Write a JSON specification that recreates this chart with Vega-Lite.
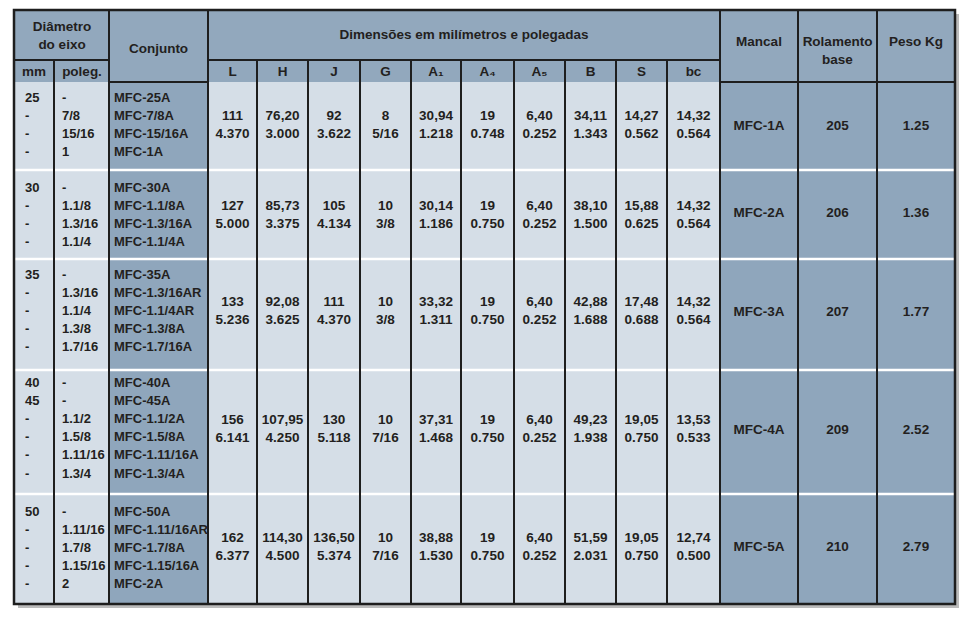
{
  "$schema": "https://vega.github.io/schema/vega-lite/v6.json",
  "width": 970,
  "height": 621,
  "autosize": {"type": "fit", "contains": "padding"},
  "padding": 0,
  "background": "#ffffff",
  "config": {"view": {"stroke": null}},
  "datasets": {
    "frame": [{"x0": 14, "x1": 955, "y0": 10, "y1": 604}],
    "cols": [
      {"col": "mm", "x0": 14, "x1": 54, "tx": 25, "grp": "left", "cls": "light"},
      {"col": "poleg", "x0": 54, "x1": 109, "tx": 62, "grp": "left", "cls": "light"},
      {"col": "conj", "x0": 109, "x1": 208, "tx": 114, "grp": "left", "cls": "dark"},
      {"col": "L", "x0": 208, "x1": 257, "tx": 232.5, "grp": "dims", "cls": "light"},
      {"col": "H", "x0": 257, "x1": 308, "tx": 282.5, "grp": "dims", "cls": "light"},
      {"col": "J", "x0": 308, "x1": 360, "tx": 334, "grp": "dims", "cls": "light"},
      {"col": "G", "x0": 360, "x1": 411, "tx": 385.5, "grp": "dims", "cls": "light"},
      {"col": "A1", "x0": 411, "x1": 461, "tx": 436, "grp": "dims", "cls": "light"},
      {"col": "A4", "x0": 461, "x1": 514, "tx": 487.5, "grp": "dims", "cls": "light"},
      {"col": "A5", "x0": 514, "x1": 565, "tx": 539.5, "grp": "dims", "cls": "light"},
      {"col": "B", "x0": 565, "x1": 616, "tx": 590.5, "grp": "dims", "cls": "light"},
      {"col": "S", "x0": 616, "x1": 667, "tx": 641.5, "grp": "dims", "cls": "light"},
      {"col": "bc", "x0": 667, "x1": 720, "tx": 693.5, "grp": "dims", "cls": "light"},
      {"col": "mancal", "x0": 720, "x1": 798, "tx": 759, "grp": "right", "cls": "dark"},
      {"col": "rol", "x0": 798, "x1": 877, "tx": 837.5, "grp": "right", "cls": "dark"},
      {"col": "peso", "x0": 877, "x1": 955, "tx": 916, "grp": "right", "cls": "dark"}
    ],
    "rows": [
      {"row": 1, "y0": 82, "y1": 170, "yl": 98, "yd": 116, "yr": 126},
      {"row": 2, "y0": 170, "y1": 259, "yl": 188, "yd": 205.5, "yr": 213},
      {"row": 3, "y0": 259, "y1": 370, "yl": 275, "yd": 302, "yr": 312},
      {"row": 4, "y0": 370, "y1": 494, "yl": 383, "yd": 420, "yr": 430},
      {"row": 5, "y0": 494, "y1": 604, "yl": 512, "yd": 538, "yr": 547}
    ],
    "headers": [
      {"t": "Diâmetro\ndo eixo", "x0": 14, "x1": 109, "y0": 10, "y1": 60, "tx": 62, "ty": 27},
      {"t": "mm", "x0": 14, "x1": 54, "y0": 60, "y1": 82, "tx": 34, "ty": 71.5},
      {"t": "poleg.", "x0": 54, "x1": 109, "y0": 60, "y1": 82, "tx": 82, "ty": 71.5},
      {"t": "Conjunto", "x0": 109, "x1": 208, "y0": 10, "y1": 82, "tx": 158.5, "ty": 48.5},
      {"t": "Dimensões em milímetros e polegadas", "x0": 208, "x1": 720, "y0": 10, "y1": 60, "tx": 464, "ty": 34.5},
      {"t": "L", "x0": 208, "x1": 257, "y0": 60, "y1": 82, "tx": 232.5, "ty": 72},
      {"t": "H", "x0": 257, "x1": 308, "y0": 60, "y1": 82, "tx": 282.5, "ty": 72},
      {"t": "J", "x0": 308, "x1": 360, "y0": 60, "y1": 82, "tx": 334, "ty": 72},
      {"t": "G", "x0": 360, "x1": 411, "y0": 60, "y1": 82, "tx": 385.5, "ty": 72},
      {"t": "A₁", "x0": 411, "x1": 461, "y0": 60, "y1": 82, "tx": 436, "ty": 72},
      {"t": "A₄", "x0": 461, "x1": 514, "y0": 60, "y1": 82, "tx": 487.5, "ty": 72},
      {"t": "A₅", "x0": 514, "x1": 565, "y0": 60, "y1": 82, "tx": 539.5, "ty": 72},
      {"t": "B", "x0": 565, "x1": 616, "y0": 60, "y1": 82, "tx": 590.5, "ty": 72},
      {"t": "S", "x0": 616, "x1": 667, "y0": 60, "y1": 82, "tx": 641.5, "ty": 72},
      {"t": "bc", "x0": 667, "x1": 720, "y0": 60, "y1": 82, "tx": 693.5, "ty": 72},
      {"t": "Mancal", "x0": 720, "x1": 798, "y0": 10, "y1": 82, "tx": 759, "ty": 42},
      {"t": "Rolamento\nbase", "x0": 798, "x1": 877, "y0": 10, "y1": 82, "tx": 837.5, "ty": 42},
      {"t": "Peso Kg", "x0": 877, "x1": 955, "y0": 10, "y1": 82, "tx": 916, "ty": 42}
    ],
    "lines": [
      {"kind": "white", "x": 14, "x2": 955, "y": 170, "y2": 170},
      {"kind": "white", "x": 14, "x2": 955, "y": 259, "y2": 259},
      {"kind": "white", "x": 14, "x2": 955, "y": 370, "y2": 370},
      {"kind": "white", "x": 14, "x2": 955, "y": 494, "y2": 494},
      {"kind": "dark", "x": 54, "x2": 54, "y": 60, "y2": 604},
      {"kind": "dark", "x": 109, "x2": 109, "y": 10, "y2": 604},
      {"kind": "dark", "x": 208, "x2": 208, "y": 10, "y2": 604},
      {"kind": "dark", "x": 257, "x2": 257, "y": 60, "y2": 604},
      {"kind": "dark", "x": 308, "x2": 308, "y": 60, "y2": 604},
      {"kind": "dark", "x": 360, "x2": 360, "y": 60, "y2": 604},
      {"kind": "dark", "x": 411, "x2": 411, "y": 60, "y2": 604},
      {"kind": "dark", "x": 461, "x2": 461, "y": 60, "y2": 604},
      {"kind": "dark", "x": 514, "x2": 514, "y": 60, "y2": 604},
      {"kind": "dark", "x": 565, "x2": 565, "y": 60, "y2": 604},
      {"kind": "dark", "x": 616, "x2": 616, "y": 60, "y2": 604},
      {"kind": "dark", "x": 667, "x2": 667, "y": 60, "y2": 604},
      {"kind": "dark", "x": 720, "x2": 720, "y": 10, "y2": 604},
      {"kind": "dark", "x": 798, "x2": 798, "y": 10, "y2": 604},
      {"kind": "dark", "x": 877, "x2": 877, "y": 10, "y2": 604},
      {"kind": "dark", "x": 14, "x2": 109, "y": 60, "y2": 60},
      {"kind": "dark", "x": 208, "x2": 720, "y": 60, "y2": 60},
      {"kind": "dark", "x": 109, "x2": 208, "y": 82, "y2": 82},
      {"kind": "dark", "x": 720, "x2": 955, "y": 82, "y2": 82}
    ],
    "cells": [
      {"row": 1, "col": "mm", "t": "25\n-\n-\n-"},
      {"row": 1, "col": "poleg", "t": "-\n7/8\n15/16\n1"},
      {"row": 1, "col": "conj", "t": "MFC-25A\nMFC-7/8A\nMFC-15/16A\nMFC-1A"},
      {"row": 1, "col": "L", "t": "111\n4.370"},
      {"row": 1, "col": "H", "t": "76,20\n3.000"},
      {"row": 1, "col": "J", "t": "92\n3.622"},
      {"row": 1, "col": "G", "t": "8\n5/16"},
      {"row": 1, "col": "A1", "t": "30,94\n1.218"},
      {"row": 1, "col": "A4", "t": "19\n0.748"},
      {"row": 1, "col": "A5", "t": "6,40\n0.252"},
      {"row": 1, "col": "B", "t": "34,11\n1.343"},
      {"row": 1, "col": "S", "t": "14,27\n0.562"},
      {"row": 1, "col": "bc", "t": "14,32\n0.564"},
      {"row": 1, "col": "mancal", "t": "MFC-1A"},
      {"row": 1, "col": "rol", "t": "205"},
      {"row": 1, "col": "peso", "t": "1.25"},
      {"row": 2, "col": "mm", "t": "30\n-\n-\n-"},
      {"row": 2, "col": "poleg", "t": "-\n1.1/8\n1.3/16\n1.1/4"},
      {"row": 2, "col": "conj", "t": "MFC-30A\nMFC-1.1/8A\nMFC-1.3/16A\nMFC-1.1/4A"},
      {"row": 2, "col": "L", "t": "127\n5.000"},
      {"row": 2, "col": "H", "t": "85,73\n3.375"},
      {"row": 2, "col": "J", "t": "105\n4.134"},
      {"row": 2, "col": "G", "t": "10\n3/8"},
      {"row": 2, "col": "A1", "t": "30,14\n1.186"},
      {"row": 2, "col": "A4", "t": "19\n0.750"},
      {"row": 2, "col": "A5", "t": "6,40\n0.252"},
      {"row": 2, "col": "B", "t": "38,10\n1.500"},
      {"row": 2, "col": "S", "t": "15,88\n0.625"},
      {"row": 2, "col": "bc", "t": "14,32\n0.564"},
      {"row": 2, "col": "mancal", "t": "MFC-2A"},
      {"row": 2, "col": "rol", "t": "206"},
      {"row": 2, "col": "peso", "t": "1.36"},
      {"row": 3, "col": "mm", "t": "35\n-\n-\n-\n-"},
      {"row": 3, "col": "poleg", "t": "-\n1.3/16\n1.1/4\n1.3/8\n1.7/16"},
      {"row": 3, "col": "conj", "t": "MFC-35A\nMFC-1.3/16AR\nMFC-1.1/4AR\nMFC-1.3/8A\nMFC-1.7/16A"},
      {"row": 3, "col": "L", "t": "133\n5.236"},
      {"row": 3, "col": "H", "t": "92,08\n3.625"},
      {"row": 3, "col": "J", "t": "111\n4.370"},
      {"row": 3, "col": "G", "t": "10\n3/8"},
      {"row": 3, "col": "A1", "t": "33,32\n1.311"},
      {"row": 3, "col": "A4", "t": "19\n0.750"},
      {"row": 3, "col": "A5", "t": "6,40\n0.252"},
      {"row": 3, "col": "B", "t": "42,88\n1.688"},
      {"row": 3, "col": "S", "t": "17,48\n0.688"},
      {"row": 3, "col": "bc", "t": "14,32\n0.564"},
      {"row": 3, "col": "mancal", "t": "MFC-3A"},
      {"row": 3, "col": "rol", "t": "207"},
      {"row": 3, "col": "peso", "t": "1.77"},
      {"row": 4, "col": "mm", "t": "40\n45\n-\n-\n-\n-"},
      {"row": 4, "col": "poleg", "t": "-\n-\n1.1/2\n1.5/8\n1.11/16\n1.3/4"},
      {"row": 4, "col": "conj", "t": "MFC-40A\nMFC-45A\nMFC-1.1/2A\nMFC-1.5/8A\nMFC-1.11/16A\nMFC-1.3/4A"},
      {"row": 4, "col": "L", "t": "156\n6.141"},
      {"row": 4, "col": "H", "t": "107,95\n4.250"},
      {"row": 4, "col": "J", "t": "130\n5.118"},
      {"row": 4, "col": "G", "t": "10\n7/16"},
      {"row": 4, "col": "A1", "t": "37,31\n1.468"},
      {"row": 4, "col": "A4", "t": "19\n0.750"},
      {"row": 4, "col": "A5", "t": "6,40\n0.252"},
      {"row": 4, "col": "B", "t": "49,23\n1.938"},
      {"row": 4, "col": "S", "t": "19,05\n0.750"},
      {"row": 4, "col": "bc", "t": "13,53\n0.533"},
      {"row": 4, "col": "mancal", "t": "MFC-4A"},
      {"row": 4, "col": "rol", "t": "209"},
      {"row": 4, "col": "peso", "t": "2.52"},
      {"row": 5, "col": "mm", "t": "50\n-\n-\n-\n-"},
      {"row": 5, "col": "poleg", "t": "-\n1.11/16\n1.7/8\n1.15/16\n2"},
      {"row": 5, "col": "conj", "t": "MFC-50A\nMFC-1.11/16AR\nMFC-1.7/8A\nMFC-1.15/16A\nMFC-2A"},
      {"row": 5, "col": "L", "t": "162\n6.377"},
      {"row": 5, "col": "H", "t": "114,30\n4.500"},
      {"row": 5, "col": "J", "t": "136,50\n5.374"},
      {"row": 5, "col": "G", "t": "10\n7/16"},
      {"row": 5, "col": "A1", "t": "38,88\n1.530"},
      {"row": 5, "col": "A4", "t": "19\n0.750"},
      {"row": 5, "col": "A5", "t": "6,40\n0.252"},
      {"row": 5, "col": "B", "t": "51,59\n2.031"},
      {"row": 5, "col": "S", "t": "19,05\n0.750"},
      {"row": 5, "col": "bc", "t": "12,74\n0.500"},
      {"row": 5, "col": "mancal", "t": "MFC-5A"},
      {"row": 5, "col": "rol", "t": "210"},
      {"row": 5, "col": "peso", "t": "2.79"}
    ]
  },
  "layer": [
    {
      "data": {"name": "frame"},
      "mark": {"type": "rect", "fill": "#bcbcbc", "xOffset": 4, "x2Offset": 4, "yOffset": 4, "y2Offset": 4},
      "encoding": {
        "x": {"field": "x0", "type": "quantitative", "scale": {"domain": [0, 970], "nice": false, "zero": false}, "axis": null},
        "x2": {"field": "x1"},
        "y": {"field": "y0", "type": "quantitative", "scale": {"domain": [0, 621], "reverse": true, "nice": false, "zero": false}, "axis": null},
        "y2": {"field": "y1"}
      }
    },
    {
      "data": {"name": "headers"},
      "mark": {"type": "rect", "fill": "#92a8bd"},
      "encoding": {
        "x": {"field": "x0", "type": "quantitative", "scale": {"domain": [0, 970], "nice": false, "zero": false}, "axis": null},
        "x2": {"field": "x1"},
        "y": {"field": "y0", "type": "quantitative", "scale": {"domain": [0, 621], "reverse": true, "nice": false, "zero": false}, "axis": null},
        "y2": {"field": "y1"}
      }
    },
    {
      "data": {"name": "cells"},
      "transform": [
        {"lookup": "col", "from": {"data": {"name": "cols"}, "key": "col", "fields": ["x0", "x1", "cls"]}},
        {"lookup": "row", "from": {"data": {"name": "rows"}, "key": "row", "fields": ["y0", "y1"]}}
      ],
      "mark": {"type": "rect"},
      "encoding": {
        "x": {"field": "x0", "type": "quantitative", "scale": {"domain": [0, 970], "nice": false, "zero": false}, "axis": null},
        "x2": {"field": "x1"},
        "y": {"field": "y0", "type": "quantitative", "scale": {"domain": [0, 621], "reverse": true, "nice": false, "zero": false}, "axis": null},
        "y2": {"field": "y1"},
        "fill": {"field": "cls", "type": "nominal", "scale": {"domain": ["light", "dark"], "range": ["#d5dee7", "#8fa6bc"]}, "legend": null}
      }
    },
    {
      "data": {"name": "lines"},
      "transform": [{"filter": "datum.kind === 'white'"}],
      "mark": {"type": "rule", "stroke": "#ffffff", "strokeWidth": 2.5},
      "encoding": {
        "x": {"field": "x", "type": "quantitative", "scale": {"domain": [0, 970], "nice": false, "zero": false}, "axis": null},
        "x2": {"field": "x2"},
        "y": {"field": "y", "type": "quantitative", "scale": {"domain": [0, 621], "reverse": true, "nice": false, "zero": false}, "axis": null},
        "y2": {"field": "y2"}
      }
    },
    {
      "data": {"name": "lines"},
      "transform": [{"filter": "datum.kind === 'dark'"}],
      "mark": {"type": "rule", "stroke": "#1e1e1e", "strokeWidth": 2},
      "encoding": {
        "x": {"field": "x", "type": "quantitative", "scale": {"domain": [0, 970], "nice": false, "zero": false}, "axis": null},
        "x2": {"field": "x2"},
        "y": {"field": "y", "type": "quantitative", "scale": {"domain": [0, 621], "reverse": true, "nice": false, "zero": false}, "axis": null},
        "y2": {"field": "y2"}
      }
    },
    {
      "data": {"name": "frame"},
      "mark": {"type": "rect", "fillOpacity": 0, "stroke": "#1e1e1e", "strokeWidth": 2.5},
      "encoding": {
        "x": {"field": "x0", "type": "quantitative", "scale": {"domain": [0, 970], "nice": false, "zero": false}, "axis": null},
        "x2": {"field": "x1"},
        "y": {"field": "y0", "type": "quantitative", "scale": {"domain": [0, 621], "reverse": true, "nice": false, "zero": false}, "axis": null},
        "y2": {"field": "y1"}
      }
    },
    {
      "data": {"name": "headers"},
      "mark": {"type": "text", "align": "center", "baseline": "middle", "font": "Liberation Sans", "fontWeight": "bold", "fontSize": 13.5, "fill": "#231f20", "lineBreak": "\n", "lineHeight": 17.5},
      "encoding": {
        "x": {"field": "tx", "type": "quantitative", "scale": {"domain": [0, 970], "nice": false, "zero": false}, "axis": null},
        "y": {"field": "ty", "type": "quantitative", "scale": {"domain": [0, 621], "reverse": true, "nice": false, "zero": false}, "axis": null},
        "text": {"field": "t", "type": "nominal"}
      }
    },
    {
      "data": {"name": "cells"},
      "transform": [
        {"lookup": "col", "from": {"data": {"name": "cols"}, "key": "col", "fields": ["tx", "grp"]}},
        {"lookup": "row", "from": {"data": {"name": "rows"}, "key": "row", "fields": ["yl"]}},
        {"filter": "datum.grp === 'left'"}
      ],
      "mark": {"type": "text", "align": "left", "baseline": "middle", "font": "Liberation Sans", "fontWeight": "bold", "fontSize": 13, "fill": "#231f20", "lineBreak": "\n", "lineHeight": 18.1},
      "encoding": {
        "x": {"field": "tx", "type": "quantitative", "scale": {"domain": [0, 970], "nice": false, "zero": false}, "axis": null},
        "y": {"field": "yl", "type": "quantitative", "scale": {"domain": [0, 621], "reverse": true, "nice": false, "zero": false}, "axis": null},
        "text": {"field": "t", "type": "nominal"}
      }
    },
    {
      "data": {"name": "cells"},
      "transform": [
        {"lookup": "col", "from": {"data": {"name": "cols"}, "key": "col", "fields": ["tx", "grp"]}},
        {"lookup": "row", "from": {"data": {"name": "rows"}, "key": "row", "fields": ["yd"]}},
        {"filter": "datum.grp === 'dims'"}
      ],
      "mark": {"type": "text", "align": "center", "baseline": "middle", "font": "Liberation Sans", "fontWeight": "bold", "fontSize": 13.5, "fill": "#231f20", "lineBreak": "\n", "lineHeight": 18},
      "encoding": {
        "x": {"field": "tx", "type": "quantitative", "scale": {"domain": [0, 970], "nice": false, "zero": false}, "axis": null},
        "y": {"field": "yd", "type": "quantitative", "scale": {"domain": [0, 621], "reverse": true, "nice": false, "zero": false}, "axis": null},
        "text": {"field": "t", "type": "nominal"}
      }
    },
    {
      "data": {"name": "cells"},
      "transform": [
        {"lookup": "col", "from": {"data": {"name": "cols"}, "key": "col", "fields": ["tx", "grp"]}},
        {"lookup": "row", "from": {"data": {"name": "rows"}, "key": "row", "fields": ["yr"]}},
        {"filter": "datum.grp === 'right'"}
      ],
      "mark": {"type": "text", "align": "center", "baseline": "middle", "font": "Liberation Sans", "fontWeight": "bold", "fontSize": 13.5, "fill": "#231f20"},
      "encoding": {
        "x": {"field": "tx", "type": "quantitative", "scale": {"domain": [0, 970], "nice": false, "zero": false}, "axis": null},
        "y": {"field": "yr", "type": "quantitative", "scale": {"domain": [0, 621], "reverse": true, "nice": false, "zero": false}, "axis": null},
        "text": {"field": "t", "type": "nominal"}
      }
    }
  ]
}
